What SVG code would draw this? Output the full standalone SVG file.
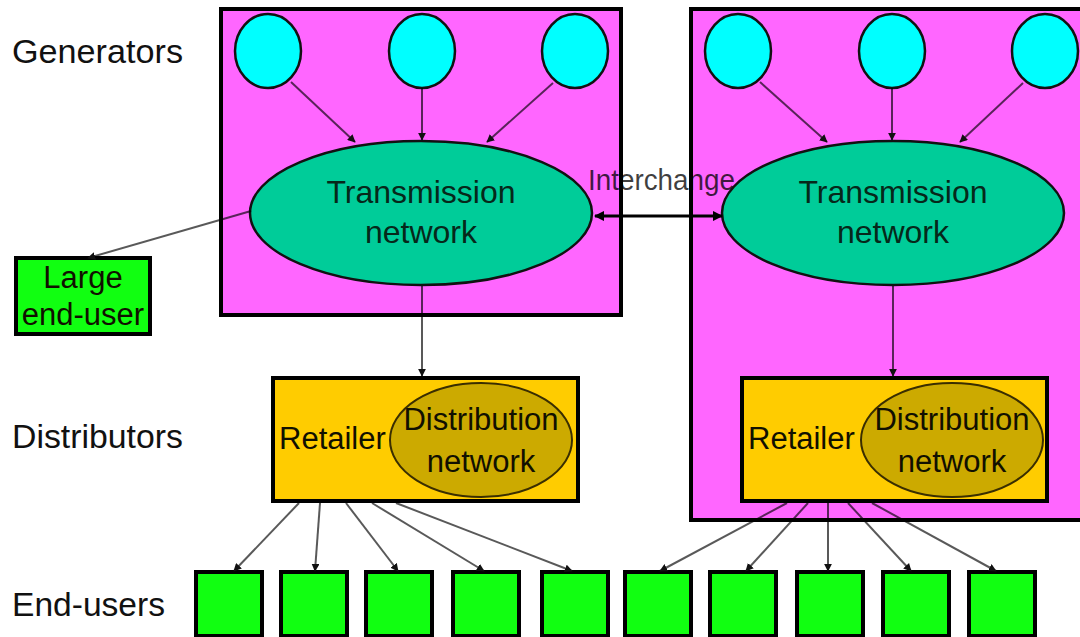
<svg xmlns="http://www.w3.org/2000/svg" width="1080" height="637" viewBox="0 0 1080 637">
  <defs>
    <style>
      text { font-family: "Liberation Sans", Arial, sans-serif; }
      .lbl { font-size: 33px; fill: #111; }
      .zone { fill: #ff66ff; stroke: #000; stroke-width: 4; }
      .gen { fill: #00ffff; stroke: #111; stroke-width: 2.5; }
      .trans { fill: #00cc99; stroke: #111; stroke-width: 2.5; }
      .ttxt { font-size: 32px; fill: #06281a; text-anchor: middle; }
      .retail { fill: #ffcc00; stroke: #000; stroke-width: 4; }
      .dist { fill: #ccaa00; stroke: #3a2e00; stroke-width: 2; }
      .dtxt { font-size: 31px; fill: #111000; text-anchor: middle; }
      .user { fill: #11ff11; stroke: #000; stroke-width: 4; }
      .link { stroke: #000; stroke-opacity: 0.65; stroke-width: 2; fill: none; marker-end: url(#tip); }
      .xchg { stroke: #000; stroke-width: 3; fill: none; marker-start: url(#tipS); marker-end: url(#tip2); }
    </style>
    <marker id="tip" viewBox="0 0 10 10" refX="9" refY="5" markerWidth="4" markerHeight="4" orient="auto" markerUnits="strokeWidth">
      <path d="M0,0 L10,5 L0,10 z" fill="#111"/>
    </marker>
    <marker id="tip2" viewBox="0 0 10 10" refX="9" refY="5" markerWidth="3.5" markerHeight="3.5" orient="auto" markerUnits="strokeWidth">
      <path d="M0,0 L10,5 L0,10 z" fill="#000"/>
    </marker>
    <marker id="tipS" viewBox="0 0 10 10" refX="1" refY="5" markerWidth="3.5" markerHeight="3.5" orient="auto" markerUnits="strokeWidth">
      <path d="M10,0 L0,5 L10,10 z" fill="#000"/>
    </marker>
  </defs>

  <rect width="1080" height="637" fill="#fff"/>

  <!-- tier labels -->
  <g id="tier-labels">
    <text class="lbl" x="12" y="63" textLength="171" lengthAdjust="spacingAndGlyphs">Generators</text>
    <text class="lbl" x="12" y="448" textLength="171" lengthAdjust="spacingAndGlyphs">Distributors</text>
    <text class="lbl" x="12" y="616" textLength="153" lengthAdjust="spacingAndGlyphs">End-users</text>
  </g>

  <!-- control areas -->
  <g id="area-west"><rect class="zone" x="221" y="9" width="400" height="306"/></g>
  <g id="area-east"><rect class="zone" x="691" y="9" width="400" height="511"/></g>

  <g id="interchange-label">
    <text x="588" y="190" font-size="30" fill="#000" fill-opacity="0.75" textLength="147" lengthAdjust="spacingAndGlyphs">Interchange</text>
  </g>

  <!-- generators -->
  <g id="gen-w1"><ellipse class="gen" cx="268" cy="51" rx="33" ry="37"/></g>
  <g id="gen-w2"><ellipse class="gen" cx="422" cy="51" rx="33" ry="37"/></g>
  <g id="gen-w3"><ellipse class="gen" cx="575" cy="51" rx="33" ry="37"/></g>
  <g id="gen-e1"><ellipse class="gen" cx="738" cy="51" rx="33" ry="37"/></g>
  <g id="gen-e2"><ellipse class="gen" cx="892" cy="51" rx="33" ry="37"/></g>
  <g id="gen-e3"><ellipse class="gen" cx="1045" cy="51" rx="33" ry="37"/></g>

  <!-- transmission networks -->
  <g id="trans-west">
    <ellipse class="trans" cx="421" cy="213" rx="171" ry="72"/>
    <text class="ttxt" x="421" y="203">Transmission</text>
    <text class="ttxt" x="421" y="243">network</text>
  </g>
  <g id="trans-east">
    <ellipse class="trans" cx="893" cy="213" rx="171" ry="72"/>
    <text class="ttxt" x="893" y="203">Transmission</text>
    <text class="ttxt" x="893" y="243">network</text>
  </g>

  <!-- large consumer -->
  <g id="large-user">
    <rect class="user" x="16" y="258" width="134" height="76"/>
    <text class="dtxt" x="83" y="288" fill="#063006">Large</text>
    <text class="dtxt" x="83" y="325" fill="#063006">end-user</text>
  </g>

  <!-- distributors -->
  <g id="dist-west">
    <rect class="retail" x="273" y="378" width="305" height="123"/>
    <text class="dtxt" x="279" y="449" style="text-anchor:start">Retailer</text>
    <ellipse class="dist" cx="481" cy="440" rx="91" ry="57"/>
    <text class="dtxt" x="481" y="430">Distribution</text>
    <text class="dtxt" x="481" y="472">network</text>
  </g>
  <g id="dist-east">
    <rect class="retail" x="742" y="378" width="305" height="123"/>
    <text class="dtxt" x="748" y="449" style="text-anchor:start">Retailer</text>
    <ellipse class="dist" cx="952" cy="440" rx="91" ry="57"/>
    <text class="dtxt" x="952" y="430">Distribution</text>
    <text class="dtxt" x="952" y="472">network</text>
  </g>

  <!-- end users -->
  <g id="user-1"><rect class="user" x="196" y="572" width="66" height="64"/></g>
  <g id="user-2"><rect class="user" x="281" y="572" width="66" height="64"/></g>
  <g id="user-3"><rect class="user" x="366" y="572" width="66" height="64"/></g>
  <g id="user-4"><rect class="user" x="453" y="572" width="66" height="64"/></g>
  <g id="user-5"><rect class="user" x="542" y="572" width="66" height="64"/></g>
  <g id="user-6"><rect class="user" x="625" y="572" width="66" height="64"/></g>
  <g id="user-7"><rect class="user" x="710" y="572" width="66" height="64"/></g>
  <g id="user-8"><rect class="user" x="797" y="572" width="66" height="64"/></g>
  <g id="user-9"><rect class="user" x="883" y="572" width="66" height="64"/></g>
  <g id="user-10"><rect class="user" x="969" y="572" width="66" height="64"/></g>

  <!-- connectors -->
  <g id="connectors">
    <path class="link" d="M291,82 L355,142"/>
    <path class="link" d="M422,88 L422,140"/>
    <path class="link" d="M553,83 L487,142"/>
    <path class="link" d="M760,82 L827,142"/>
    <path class="link" d="M892,88 L892,140"/>
    <path class="link" d="M1023,83 L960,142"/>
    <path class="link" d="M251,211 L88,258"/>
    <path class="link" d="M422,286 L422,376"/>
    <path class="link" d="M893,286 L893,376"/>
    <path class="xchg" d="M595,216 L722,216"/>
    <path class="link" d="M299,503 L234,571"/>
    <path class="link" d="M320,503 L315,571"/>
    <path class="link" d="M346,503 L398,571"/>
    <path class="link" d="M372,503 L484,571"/>
    <path class="link" d="M396,503 L572,571"/>
    <path class="link" d="M787,503 L660,571"/>
    <path class="link" d="M808,503 L746,571"/>
    <path class="link" d="M828,503 L828,571"/>
    <path class="link" d="M848,503 L911,571"/>
    <path class="link" d="M872,503 L996,571"/>
  </g>
</svg>
